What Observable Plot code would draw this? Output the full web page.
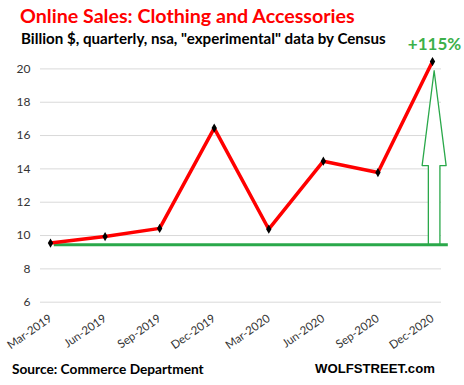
<!DOCTYPE html>
<html><head><meta charset="utf-8">
<script src="https://cdn.jsdelivr.net/npm/d3@7"></script>
<script src="https://cdn.jsdelivr.net/npm/@observablehq/plot@0.6"></script>
<style>
html,body{margin:0;padding:0;background:#fff;}
#wrap{position:relative;width:464px;height:385px;overflow:hidden;font-family:Lato,"Open Sans",sans-serif;}
#wrap svg{position:absolute;left:0;top:0;}
.t{position:absolute;white-space:nowrap;line-height:1;font-weight:bold;}
#title{left:20px;top:6px;font-size:20px;color:#ff0000;}
#subtitle{left:21px;top:31px;font-size:14px;color:#000;}
#source{left:12px;top:362px;font-size:14px;color:#000;}
#brand{left:315px;top:362px;font-size:14px;color:#000;font-family:"Liberation Sans",Arial,sans-serif;}
</style></head><body>
<div id="wrap">
  <div id="title" class="t">Online Sales: Clothing and Accessories</div>
  <div id="subtitle" class="t">Billion $, quarterly, nsa, "experimental" data by Census</div>
  <div id="source" class="t">Source: Commerce Department</div>
  <div id="brand" class="t">WOLFSTREET.com</div>
</div>
<script>
const categories = ["Mar-2019","Jun-2019","Sep-2019","Dec-2019","Mar-2020","Jun-2020","Sep-2020","Dec-2020"];
const values = [9.55, 9.94, 10.43, 16.45, 10.38, 14.46, 13.78, 20.44];
const baseline = 9.45;
const yTicks = [6, 8, 10, 12, 14, 16, 18, 20];
const pctLabel = "+115%";

const n = categories.length;
const data = categories.map((c, i) => ({i, c, v: values[i]}));
const last = values[n - 1];
const cx = n - 1 + 0.03;
const hs = 0.106, hh = 0.22;
const tip = last - 0.55;
const headBase = baseline + 0.455 * (tip - baseline);
const arrow = [
  [cx - hs, baseline], [cx - hs, headBase], [cx - hh, headBase], [cx, tip],
  [cx + hh, headBase], [cx + hs, headBase], [cx + hs, baseline]
];
const green = "#2aa84a";

const chart = Plot.plot({
  width: 464, height: 385,
  marginTop: 68.4, marginBottom: 83.3, marginLeft: 40, marginRight: 23,
  style: {fontFamily: "Lato, sans-serif", fontSize: "12px", color: "#333", background: "transparent", overflow: "visible"},
  x: {type: "linear", domain: [0, n - 1], range: [50, 432]},
  y: {domain: [6, 20]},
  marks: [
    Plot.ruleY(yTicks, {stroke: "#d9d9d9", strokeWidth: 1}),
    Plot.axisY({ticks: yTicks, tickSize: 0, tickPadding: 10, label: null, fontSize: 12}),
    Plot.axisX({ticks: d3.range(n), tickFormat: i => categories[i], tickRotate: -35, tickSize: 0, tickPadding: 15, label: null, fontSize: 11.5}),
    Plot.line(arrow, {x: d => d[0], y: d => d[1], fill: "white", stroke: green, strokeWidth: 1.3}),
    Plot.ruleY([baseline], {x1: 0.07, x2: n - 1 + 0.29, stroke: green, strokeWidth: 3}),
    Plot.line(data, {x: "i", y: "v", stroke: "#ff0000", strokeWidth: 3.5}),
    Plot.dot(data, {x: "i", y: "v", symbol: "diamond", r: 2.8, fill: "black"}),
    Plot.text([{i: n - 1, v: last, t: pctLabel}], {x: "i", y: "v", text: "t", dy: -12, dx: 2, lineAnchor: "bottom", fontSize: 17, fontWeight: "bold", fill: "#3cb04a"})
  ]
});
document.getElementById("wrap").prepend(chart);

function fit(id, w) {
  const el = document.getElementById(id);
  const fs = parseFloat(getComputedStyle(el).fontSize);
  const cur = el.getBoundingClientRect().width;
  el.style.fontSize = (fs * w / cur) + "px";
}
fit("title", 335); fit("subtitle", 365); fit("source", 192); fit("brand", 120);
</script>
</body></html>
